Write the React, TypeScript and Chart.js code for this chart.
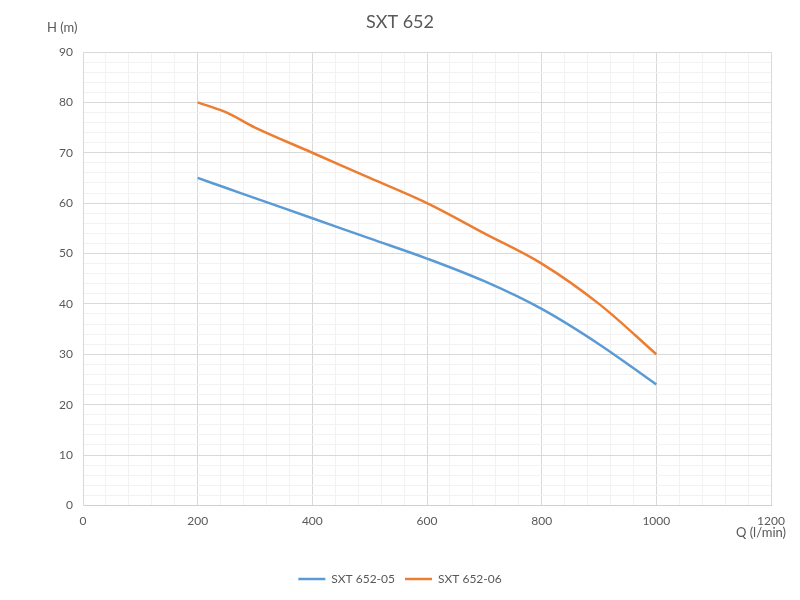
import React, { useEffect, useRef } from "react";
import { Chart, registerables } from "chart.js";

Chart.register(...registerables);

const chartTitle = "SXT 652";
const yAxisLabel = "H (m)";
const xAxisLabel = "Q (l/min)";
const seriesNames = ["SXT 652-05", "SXT 652-06"];
const flowQ = [200, 250, 300, 400, 500, 600, 700, 800, 900, 1000];
const head05 = [65, 63, 61, 57, 53, 49, 44.5, 39, 32, 24];
const head06 = [80, 78, 75, 70, 65, 60, 54, 48, 40, 30];

const FONT = "Lato, 'Open Sans', 'Liberation Sans', sans-serif";
const TEXT = "#595959";

const axisLabelsPlugin = {
  id: "axisLabels",
  afterDraw(chart: any) {
    const ctx = chart.ctx;
    const area = chart.chartArea;
    ctx.save();
    ctx.fillStyle = TEXT;
    ctx.font = `13px ${FONT}`;
    ctx.textBaseline = "middle";
    ctx.textAlign = "left";
    ctx.fillText(yAxisLabel, area.left - 36, area.top - 24);
    ctx.textAlign = "right";
    ctx.fillText(xAxisLabel, area.right + 15, area.bottom + 27);
    ctx.restore();
  },
};

export default function App() {
  const ref = useRef<HTMLCanvasElement | null>(null);

  useEffect(() => {
    if (!ref.current) return;
    const toPts = (ys: number[]) => flowQ.map((x, i) => ({ x, y: ys[i] }));
    const chart = new Chart(ref.current, {
      type: "line",
      data: {
        datasets: [
          {
            label: seriesNames[0],
            data: toPts(head05),
            borderColor: "#5B9BD5",
            backgroundColor: "#5B9BD5",
            borderWidth: 2.5,
            pointRadius: 0,
            tension: 0.35,
            fill: false,
          },
          {
            label: seriesNames[1],
            data: toPts(head06),
            borderColor: "#ED7D31",
            backgroundColor: "#ED7D31",
            borderWidth: 2.5,
            pointRadius: 0,
            tension: 0.35,
            fill: false,
          },
        ],
      },
      options: {
        responsive: false,
        animation: false,
        layout: { padding: { top: 0, left: 0, right: 0, bottom: 5 } },
        plugins: {
          title: {
            display: true,
            text: chartTitle,
            color: TEXT,
            font: { family: FONT, size: 18, weight: "normal" },
            padding: { top: 11, bottom: 19.4 },
          },
          legend: {
            display: true,
            position: "bottom",
            labels: {
              color: TEXT,
              font: { family: FONT, size: 12 },
              usePointStyle: true,
              pointStyle: "line",
              pointStyleWidth: 27,
              boxHeight: 12,
              padding: 10,
            },
          },
          tooltip: { enabled: false },
        },
        scales: {
          x: {
            type: "linear",
            min: 0,
            max: 1200,
            ticks: {
              stepSize: 40,
              maxTicksLimit: 100,
              autoSkip: false,
              maxRotation: 0,
              padding: 9,
              color: TEXT,
              font: { family: FONT, size: 12 },
              callback: (v: any) => (Number(v) % 200 === 0 ? String(v) : ""),
            },
            grid: {
              drawTicks: false,
              color: (c: any) => (c.tick && c.tick.value % 200 === 0 ? "#d9d9d9" : "#f2f2f2"),
              lineWidth: 1,
            },
            border: { display: true, color: "#d0d0d0" },
            afterFit: (s: any) => {
              s.height = 57.6;
            },
          },
          y: {
            type: "linear",
            position: "left",
            min: 0,
            max: 90,
            ticks: {
              stepSize: 2,
              maxTicksLimit: 100,
              autoSkip: false,
              padding: 10,
              color: TEXT,
              font: { family: FONT, size: 12 },
              callback: (v: any) => (Number(v) % 10 === 0 ? String(v) : ""),
            },
            grid: {
              drawTicks: false,
              color: (c: any) => (c.tick && c.tick.value % 10 === 0 ? "#d9d9d9" : "#f2f2f2"),
              lineWidth: 1,
            },
            border: { display: true, color: "#d9d9d9" },
            afterFit: (s: any) => {
              s.width = 83;
            },
          },
          yRight: {
            type: "linear",
            position: "right",
            display: true,
            min: 0,
            max: 90,
            ticks: { display: false },
            grid: { display: false, drawTicks: false },
            border: { display: false },
            afterFit: (s: any) => {
              s.width = 29;
            },
          },
        },
      },
      plugins: [axisLabelsPlugin],
    } as any);
    return () => chart.destroy();
  }, []);

  return (
    <div style={{ position: "fixed", left: 0, top: 0, width: 800, height: 600, background: "#fff" }}>
      <canvas ref={ref} width={800} height={600} />
    </div>
  );
}
